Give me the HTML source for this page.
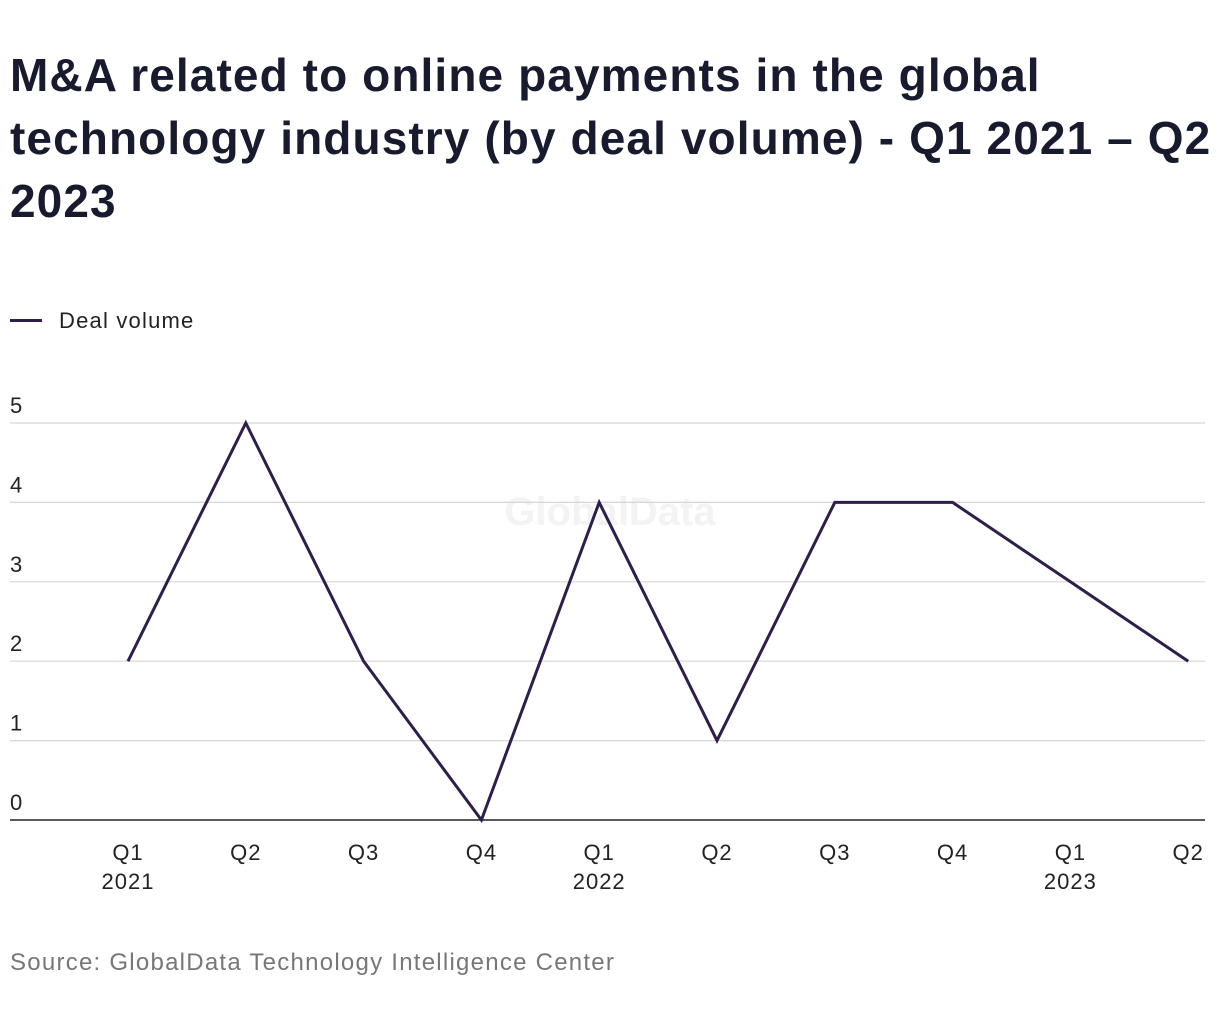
<!DOCTYPE html>
<html><head><meta charset="utf-8"><style>
body{margin:0;background:#fff;width:1220px;height:1020px;overflow:hidden;font-family:"Liberation Sans",sans-serif;}
#title{position:absolute;left:10px;top:44px;width:1210px;font-size:46px;font-weight:bold;line-height:63px;color:#181a2e;margin:0;letter-spacing:1.1px;}
#legend{position:absolute;left:10px;top:308px;font-size:22px;color:#222;letter-spacing:1.2px;}
#legend span.sw{display:inline-block;width:32px;height:3px;background:#2e1f4a;vertical-align:middle;margin-right:17px;position:relative;top:-2px}
#source{position:absolute;left:10px;top:949px;font-size:24px;color:#777;letter-spacing:1.25px;}
svg{position:absolute;left:0;top:0}
</style></head><body>
<h1 id="title">M&amp;A related to online payments in the global technology industry (by deal volume) - Q1 2021 – Q2 2023</h1>
<div id="legend"><span class="sw"></span>Deal volume</div>
<svg id="chart" width="1220" height="1020"></svg>
<div id="source">Source: GlobalData Technology Intelligence Center</div>
<script>
const quarters=["Q1","Q2","Q3","Q4","Q1","Q2","Q3","Q4","Q1","Q2"];
const years=["2021","","","","2022","","","","2023",""];
const dealVolume=[2,5,2,0,4,1,4,4,3,2];
const yTicks=[0,1,2,3,4,5];
const NS="http://www.w3.org/2000/svg";
const svg=document.getElementById('chart');
const x=i=>128+i*117.8;
const y=v=>820-v*79.4;
function mk(t,a){const e=document.createElementNS(NS,t);for(const k in a)e.setAttribute(k,a[k]);svg.appendChild(e);return e;}
const wm=mk('text',{x:610,y:525,'font-size':40,'font-weight':'bold','text-anchor':'middle',fill:'#f3f3f3'});
wm.textContent='GlobalData';


yTicks.forEach(v=>{
 const g=mk('line',{x1:10,x2:1205,y1:y(v),y2:y(v),stroke:v===0?'#222':'#d6d6d6','stroke-width':v===0?1.5:1.2});
 
 
 const t=mk('text',{x:10,y:y(v)-10,'font-size':22,fill:'#222'});t.textContent=v;
 
 
});
quarters.forEach((q,i)=>{
 const t=mk('text',{x:x(i),y:860,'font-size':22,fill:'#222','text-anchor':'middle','letter-spacing':1});t.textContent=q;
 
 
 if(years[i]){const t2=mk('text',{x:x(i),y:889,'font-size':22,fill:'#222','text-anchor':'middle','letter-spacing':1});t2.textContent=years[i];
 
 }
});
const p=mk('polyline',{points:dealVolume.map((v,i)=>x(i)+','+y(v)).join(' '),fill:'none',stroke:'#2e1f4a','stroke-width':3,'stroke-linejoin':'miter'});


</script>
</body></html>
